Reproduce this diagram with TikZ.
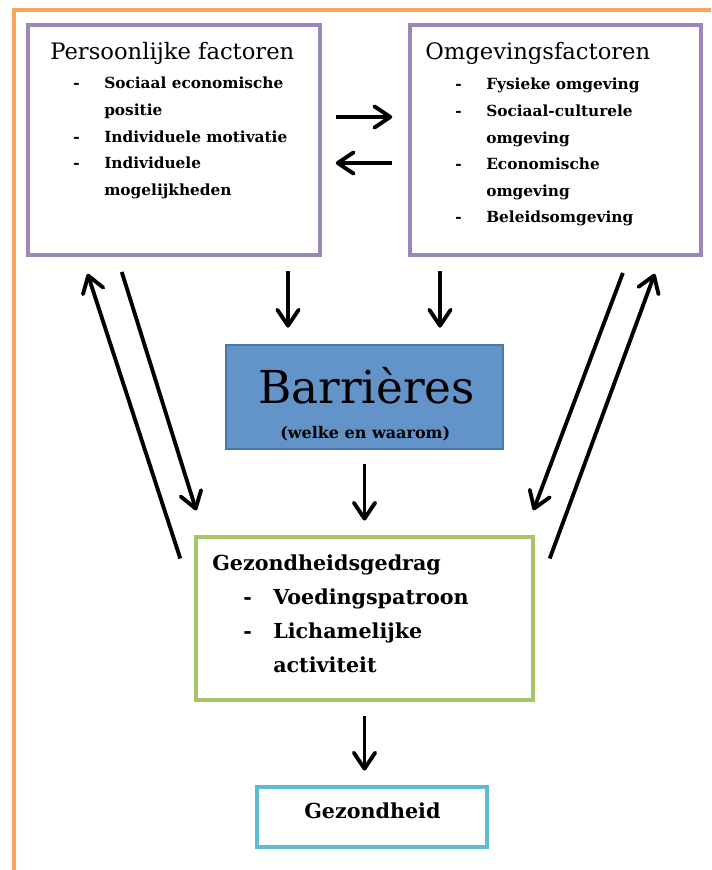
\documentclass[tikz,border=0pt]{standalone}
\usepackage{fontspec}
\setmainfont{DejaVu Serif}
\usepackage{tikz}
\usetikzlibrary{arrows.meta}
\definecolor{frame}{HTML}{FBA55B}
\definecolor{lilac}{HTML}{9C86BB}
\definecolor{leaf}{HTML}{A9C56B}
\definecolor{sky}{HTML}{5BBCD3}
\definecolor{steel}{HTML}{6394C9}
\definecolor{steeldark}{HTML}{4A77AC}
\tikzset{
  boxline/.style={line width=2.6pt, fill=white},
  arr/.style={draw=black, line width=2.9pt, -{Straight Barb[length=12pt,width=16pt,round]},
    shorten <=11pt, shorten >=11pt},
  head/.style={anchor=base west, inner sep=0pt, font=\fontsize{17}{20}\selectfont},
  list/.style={anchor=base west, inner sep=0pt},
}

\begin{document}
\begin{tikzpicture}[x=0.75pt,y=-0.75pt]
  \useasboundingbox (0,0) rectangle (711,870);
  \clip (0,0) rectangle (711,870);
  \draw[frame, line width=2.6pt] (14,880) -- (14,10) -- (720,10);

  % boxes
  \node[boxline, draw=lilac, minimum width=219pt, minimum height=172.5pt] (pers) at (174,140) {};
  \node[boxline, draw=lilac, minimum width=218.25pt, minimum height=172.5pt] (omg) at (555.5,140) {};
  \node[draw=steeldark, fill=steel, line width=2pt, minimum width=207.75pt, minimum height=78pt] (barr) at (364.5,397) {};
  \node[boxline, draw=leaf, minimum width=252.75pt, minimum height=122.25pt] (gedrag) at (364.5,618.5) {};
  \node[boxline, draw=sky, minimum width=172.5pt, minimum height=45pt] (gez) at (372,817) {};

  % texts
  \node[head] (persT) at (50,60) {Persoonlijke factoren};
  \node[list, font=\bfseries\fontsize{11.5}{19.9}\selectfont] (persL) at (73,89) {\begin{tabular}[t]{@{}p{23.25pt}@{}l@{}}
    - & Sociaal economische\\
      & positie\\
    - & Individuele motivatie\\
    - & Individuele\\
      & mogelijkheden
  \end{tabular}};
  \node[head] (omgT) at (425,60) {Omgevingsfactoren};
  \node[list, font=\bfseries\fontsize{11.5}{19.9}\selectfont] (omgL) at (455,90) {\begin{tabular}[t]{@{}p{23.25pt}@{}l@{}}
    - & Fysieke omgeving\\
    - & Sociaal-culturele\\
      & omgeving\\
    - & Economische\\
      & omgeving\\
    - & Beleidsomgeving
  \end{tabular}};
  \node[list, font=\fontsize{34}{40}\selectfont] (barrT) at (258,403) {Barrières};
  \node[list, font=\bfseries\fontsize{12}{14}\selectfont] (barrS) at (280,438) {(welke en waarom)};
  \node[list, font=\bfseries\fontsize{15.5}{19}\selectfont] (gedragT) at (212,570) {Gezondheidsgedrag};
  \node[list, font=\bfseries\fontsize{15.5}{25.5}\selectfont] (gedragL) at (243,604) {\begin{tabular}[t]{@{}p{22.5pt}@{}l@{}}
    - & Voedingspatroon\\
    - & Lichamelijke\\
      & activiteit
  \end{tabular}};
  \node[list, font=\bfseries\fontsize{15.5}{19}\selectfont] (gezT) at (304,818) {Gezondheid};

  % arrows
  \draw[arr, shorten <=10.5pt, shorten >=12pt] ([yshift=17.25pt]pers.east) -- ([yshift=17.25pt]omg.west);
  \draw[arr, shorten <=12pt, shorten >=10.5pt] ([yshift=-17.25pt]omg.west) -- ([yshift=-17.25pt]pers.east);
  \draw[arr, shorten >=12pt] (pers.south -| 288,0) -- (barr.north -| 288,0);
  \draw[arr, shorten >=12pt] (omg.south -| 440,0) -- (barr.north -| 440,0);
  \draw[arr, shorten <=10.5pt] (barr.south) -- (gedrag.north);
  \draw[arr] (gedrag.south) -- (gedrag.south |- gez.north);
  \draw[arr, shorten <=12pt, shorten >=19.5pt] (pers.south -| 117,0) -- (gedrag.north -| 204,0);
  \draw[arr, shorten <=0pt, shorten >=13.5pt] ([xshift=-10.5pt,yshift=45pt]gedrag.west) -- (pers.south -| 82,0);
  \draw[arr, shorten <=13pt, shorten >=20pt] (omg.south -| 629,0) -- (gedrag.north -| 524,0);
  \draw[arr, shorten <=0pt, shorten >=13.6pt] ([xshift=11.25pt,yshift=45pt]gedrag.east) -- (omg.south -| 661,0);
\end{tikzpicture}
\end{document}
